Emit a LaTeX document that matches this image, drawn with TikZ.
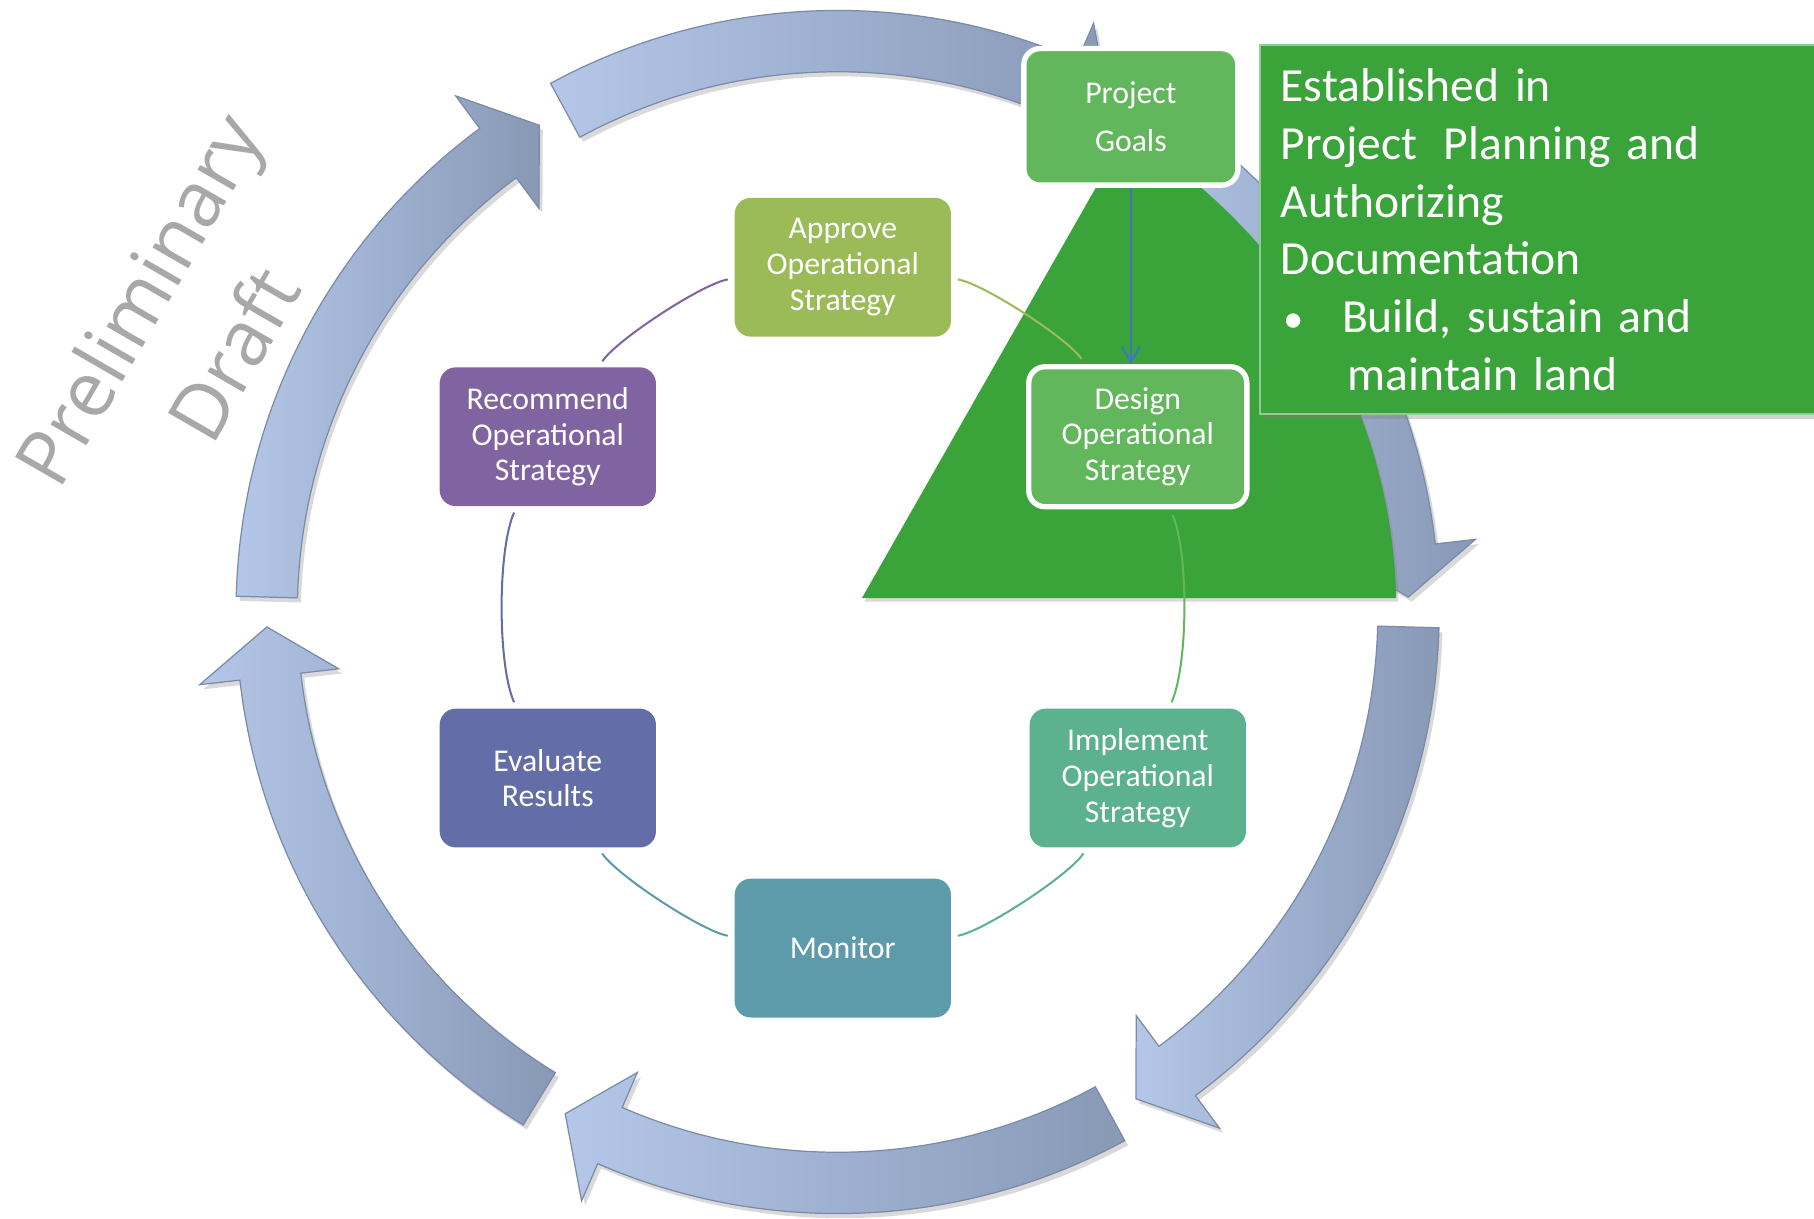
\documentclass[tikz,border=0pt]{standalone}
\usepackage{fontspec}
\setmainfont{Carlito}
\newfontfamily\draftfont{Open Sans}
\usetikzlibrary{arrows.meta,shadows}

\definecolor{approvecol}{RGB}{155,187,89}
\definecolor{designcol}{RGB}{98,182,92}
\definecolor{implementcol}{RGB}{92,177,142}
\definecolor{monitorcol}{RGB}{94,155,170}
\definecolor{evaluatecol}{RGB}{99,110,168}
\definecolor{recommendcol}{RGB}{128,100,162}
\definecolor{fieldgreen}{RGB}{58,163,58}
\definecolor{arrowlight}{RGB}{180,199,232}
\definecolor{arrowdark}{RGB}{136,153,182}
\definecolor{arrowedge}{RGB}{122,138,168}
\definecolor{goalblue}{RGB}{68,114,196}
\definecolor{draftgray}{RGB}{168,168,168}

\begin{document}
\begin{tikzpicture}[stage/.style = {rounded corners=0.14cm, minimum width=1.87cm, minimum height=1.2cm, inner sep=0pt, align=center, text=white, font=\fontsize{7.8}{8.8}\selectfont},
framed/.style = {stage, draw=white, line width=1.3pt},
ringarrow/.style = {left color=arrowlight, right color=arrowdark, draw=arrowedge, line width=0.3pt, drop shadow={shadow xshift=0.03cm, shadow yshift=-0.04cm, opacity=0.3}},
loopline/.style = {line width=0.5pt, shorten <=1.5pt, shorten >=1.5pt},
infobox/.style = {anchor=north west, fill=fieldgreen, draw=fieldgreen!55!white, line width=0.6pt, text=white, text width=4.84cm, inner xsep=0.18cm, inner ysep=0.17cm, minimum height=3.19cm, align=left, font=\fontsize{11.7}{14.2}\selectfont, drop shadow={shadow xshift=0.02cm, shadow yshift=-0.04cm, opacity=0.35}}]

\useasboundingbox (0,0) rectangle (15.68,-10.53);
\clip (0,0) rectangle (15.68,-10.53);

% big ring of arrows
\begin{scope}[shift={(7.24,-5.29)}]
\path[ringarrow] (178.5:5.2) arc[start angle=178.5, end angle=126.5, radius=5.2] -- (126.5:5.55) -- (121.5:4.935) -- (126.5:4.34) -- (126.5:4.67) arc[start angle=126.5, end angle=178.5, radius=4.67] -- cycle;
\path[ringarrow] (118.5:5.2) arc[start angle=118.5, end angle=66.5, radius=5.2] -- (66.5:5.55) -- (61.5:4.935) -- (66.5:4.34) -- (66.5:4.67) arc[start angle=66.5, end angle=118.5, radius=4.67] -- cycle;
\path[ringarrow] (58.5:5.2) arc[start angle=58.5, end angle=6.5, radius=5.2] -- (6.5:5.55) -- (1.5:4.935) -- (6.5:4.34) -- (6.5:4.67) arc[start angle=6.5, end angle=58.5, radius=4.67] -- cycle;
\path[ringarrow] (-1.5:5.2) arc[start angle=-1.5, end angle=-53.5, radius=5.2] -- (-53.5:5.55) -- (-58.5:4.935) -- (-53.5:4.34) -- (-53.5:4.67) arc[start angle=-53.5, end angle=-1.5, radius=4.67] -- cycle;
\path[ringarrow] (-61.5:5.2) arc[start angle=-61.5, end angle=-113.5, radius=5.2] -- (-113.5:5.55) -- (-118.5:4.935) -- (-113.5:4.34) -- (-113.5:4.67) arc[start angle=-113.5, end angle=-61.5, radius=4.67] -- cycle;
\path[ringarrow] (-121.5:5.2) arc[start angle=-121.5, end angle=-173.5, radius=5.2] -- (-173.5:5.55) -- (-178.5:4.935) -- (-173.5:4.34) -- (-173.5:4.67) arc[start angle=-173.5, end angle=-121.5, radius=4.67] -- cycle;

% green field
\fill[fieldgreen, drop shadow={shadow xshift=0.02cm, shadow yshift=-0.03cm, opacity=0.3}] (0.21,0.12) -- (58.86:4.83) arc[start angle=58.86, end angle=1.42, radius=4.83] -- cycle;
\end{scope}

\node[stage, fill=approvecol, xshift=7.285cm, yshift=-2.31cm] (1) {Approve\\Operational\\Strategy};
\node[framed, fill=designcol, minimum width=1.885cm, minimum height=1.21cm, xshift=9.835cm, yshift=-3.775cm] (2) {Design\\Operational\\Strategy};
\node[stage, fill=implementcol, xshift=9.835cm, yshift=-6.725cm] (3) {Implement\\Operational\\Strategy};
\node[stage, fill=monitorcol, xshift=7.285cm, yshift=-8.195cm] (4) {Monitor};
\node[stage, fill=evaluatecol, xshift=4.735cm, yshift=-6.725cm] (5) {Evaluate\\Results};
\node[stage, fill=recommendcol, xshift=4.735cm, yshift=-3.775cm] (6) {Recommend\\Operational\\Strategy};

\draw[loopline, approvecol] (1) to[bend left=24, looseness=0.5] (2);
\draw[loopline, designcol] (2) to[bend left=24, looseness=0.6] (3);
\draw[loopline, implementcol] (3) to[bend left=24, looseness=0.5] (4);
\draw[loopline, monitorcol] (4) to[bend left=24, looseness=0.5] (5);
\draw[loopline, evaluatecol] (5) to[bend left=24, looseness=0.6] (6);
\draw[loopline, recommendcol] (6) to[bend left=24, looseness=0.5] (1);

\node[framed, fill=designcol, minimum width=1.85cm, minimum height=1.18cm, xshift=9.775cm, yshift=-1.01cm] (goals) {Project\\[0.11cm]Goals};
\draw[-{Straight Barb[length=0.13cm, width=0.15cm]}, goalblue, line width=0.5pt] (goals.south) -- (goals.south |- 2.north);

\node[infobox, xshift=10.88cm, yshift=-0.38cm] (note) {Established in\\Project\hspace{0.23cm}Planning and\\Authorizing\\Documentation\\\makebox[0.53cm][l]{\hspace{0.02cm}{\fontsize{10}{10}\selectfont\textbullet}}Build, sustain and\\\hspace*{0.58cm}maintain land};

\node[rotate=60, text=draftgray, align=center, font=\draftfont\fontsize{19}{27}\selectfont] (draft) at (1.6,-2.82) {Preliminary\\Draft};

\end{tikzpicture}
\end{document}
